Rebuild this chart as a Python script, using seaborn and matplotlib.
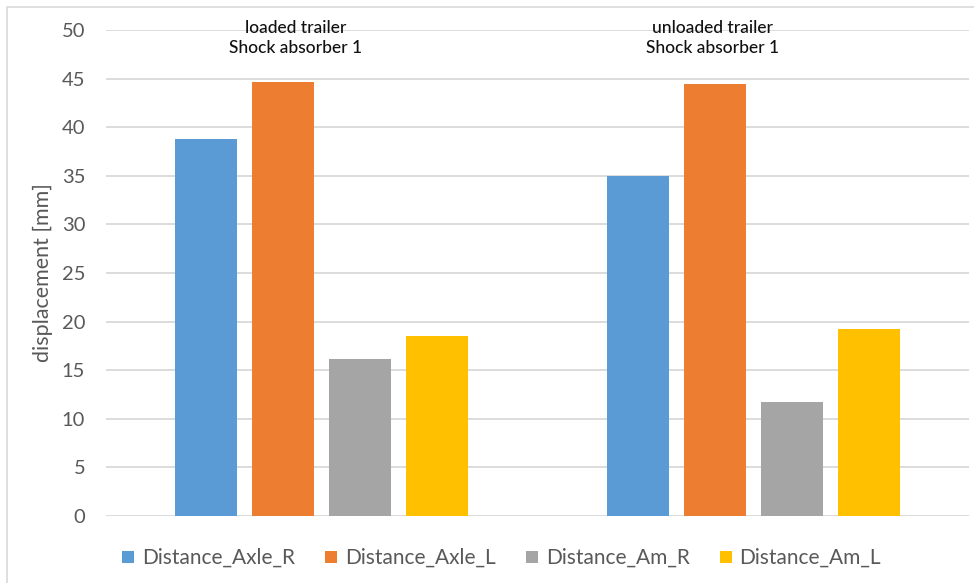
import matplotlib
matplotlib.use("Agg")
import matplotlib.pyplot as plt
import seaborn as sns
import pandas as pd
from matplotlib.patches import Rectangle
from matplotlib.lines import Line2D

# ---- data ----
categories = ["loaded trailer\nShock absorber 1", "unloaded trailer\nShock absorber 1"]
series = ["Distance_Axle_R", "Distance_Axle_L", "Distance_Am_R", "Distance_Am_L"]
distance_axle_r = [38.8, 35.0]
distance_axle_l = [44.7, 44.4]
distance_am_r = [16.2, 11.7]
distance_am_l = [18.5, 19.2]
y_ticks = [0, 5, 10, 15, 20, 25, 30, 35, 40, 45, 50]
y_label = "displacement [mm]"

colors = ["#5B9BD5", "#ED7D31", "#A5A5A5", "#FFC000"]

rows = []
for s, vals in zip(series, [distance_axle_r, distance_axle_l, distance_am_r, distance_am_l]):
    for c, v in zip(categories, vals):
        rows.append({"category": c, "series": s, "value": v})
df = pd.DataFrame(rows)

sns.set_theme(style="white")
plt.rcParams["font.family"] = ["Lato", "DejaVu Sans"]

fig = plt.figure(figsize=(9.74, 5.83), dpi=100)
ax = fig.add_axes([106/974, 1 - 516/583, (969 - 106)/974, (516 - 30)/583])

sns.barplot(data=df, x="category", y="value", hue="series", order=categories,
            hue_order=series, palette=colors, width=0.714, gap=0.2,
            saturation=1, ax=ax, legend=False, linewidth=0)

ax.set_ylim(0, 50)
ax.set_xlim(-0.5, 1.5)
ax.set_yticks(y_ticks)
ax.set_yticklabels([str(t) for t in y_ticks], color="#595959", fontsize=14.5)
ax.tick_params(axis="y", length=0, pad=15)
ax.set_xticks([])
ax.set_xlabel("")
ax.set_ylabel(y_label, color="#595959", fontsize=15.5, labelpad=6)
ax.yaxis.grid(True, color="#D9D9D9", linewidth=1.3)
ax.set_axisbelow(True)
for sp in ax.spines.values():
    sp.set_visible(False)

# group labels at the top
label_offsets = [-0.06, -0.095]
for i, (c, off) in enumerate(zip(categories, label_offsets)):
    ax.text(i + off, 1.021, c, transform=ax.get_xaxis_transform(), ha="center",
            va="top", fontsize=12.5, color="#111111", linespacing=1.3,
            fontweight="medium", clip_on=False)

# legend
handles = [Line2D([0], [0], marker="s", linestyle="none", markersize=9,
                  markerfacecolor=col, markeredgewidth=0) for col in colors]
fig.legend(handles, series, loc="center", bbox_to_anchor=(0.515, 1 - 558/583),
           ncol=4, frameon=False, fontsize=15, handlelength=0.6,
           handletextpad=0.35, columnspacing=1.45, labelcolor="#595959")

# outer border (top/left visible)
fig.patches.append(Rectangle((7/974, -0.05), 1.1, 1 - 7/583 + 0.05,
                             transform=fig.transFigure, fill=False,
                             edgecolor="#D9D9D9", linewidth=1.2))

fig.savefig("out.png", dpi=100)
